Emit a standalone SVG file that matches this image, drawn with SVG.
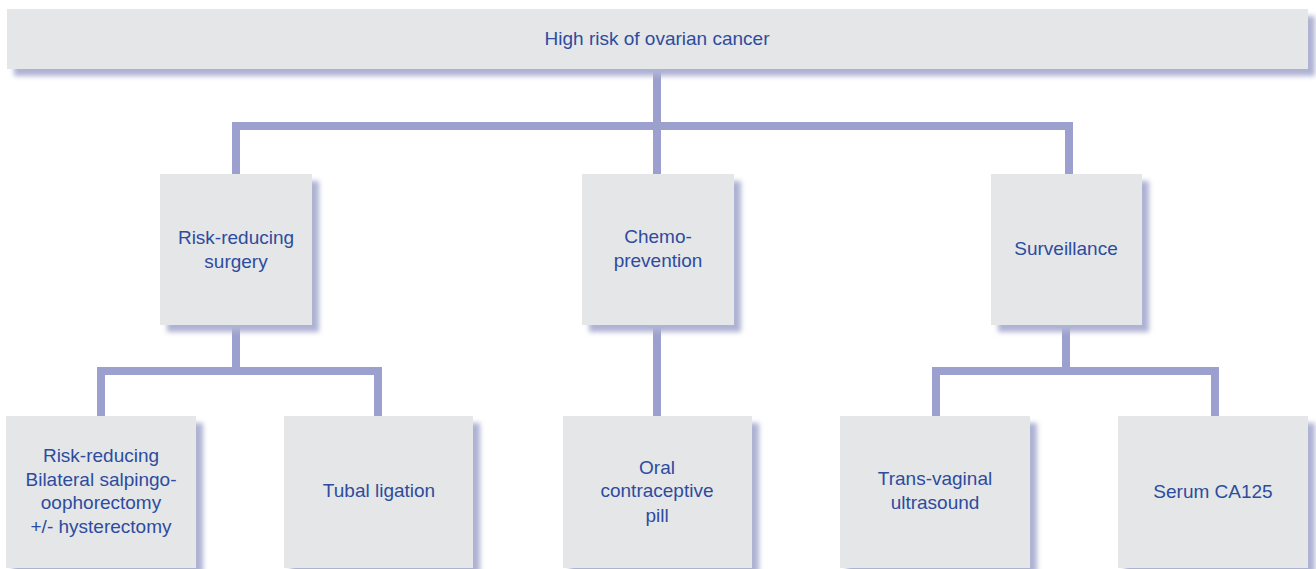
<svg xmlns="http://www.w3.org/2000/svg" width="1316" height="569" viewBox="0 0 1316 569">
<style>
.box{fill:#e5e6e8;filter:url(#sh)}
.t{font-family:"Liberation Sans",Arial,sans-serif;font-size:19px;fill:#2d4c9e;text-anchor:middle}
.c{fill:none;stroke:#9ca0cf;stroke-width:8}
</style>
<defs>
<filter id="sh" x="-10%" y="-10%" width="130%" height="130%">
<feDropShadow dx="7" dy="7" stdDeviation="2.5" flood-color="#aeb2d3" flood-opacity="1"/>
</filter>
</defs>
<rect width="1316" height="569" fill="#ffffff"/>
<g id="connectors">
<path class="c" d="M657 69V126M236 174V126H1069V174M657 126V174"/>
<path class="c" d="M236 325V371H101V416M236 371H378V416"/>
<path class="c" d="M657 325V416"/>
<path class="c" d="M1066 325V371H936V416M1066 371H1215V416"/>
</g>
<g id="root"><rect class="box" x="7" y="9" width="1301" height="60"/><text class="t" x="657" y="45">High risk of ovarian cancer</text></g>
<g id="surgery"><rect class="box" x="160" y="174" width="152" height="151"/><text class="t" x="236" y="244">Risk-reducing</text><text class="t" x="236" y="268">surgery</text></g>
<g id="chemo"><rect class="box" x="582" y="174" width="152" height="151"/><text class="t" x="658" y="243">Chemo-</text><text class="t" x="658" y="267">prevention</text></g>
<g id="surveillance"><rect class="box" x="991" y="174" width="151" height="151"/><text class="t" x="1066" y="255">Surveillance</text></g>
<g id="bso"><rect class="box" x="6" y="416" width="190" height="152"/><text class="t" x="101" y="462">Risk-reducing</text><text class="t" x="101" y="486">Bilateral salpingo-</text><text class="t" x="101" y="509">oophorectomy</text><text class="t" x="101" y="533">+/- hysterectomy</text></g>
<g id="tubal"><rect class="box" x="284" y="416" width="189" height="152"/><text class="t" x="379" y="497">Tubal ligation</text></g>
<g id="ocp"><rect class="box" x="563" y="416" width="189" height="152"/><text class="t" x="657" y="474">Oral</text><text class="t" x="657" y="497">contraceptive</text><text class="t" x="657" y="522">pill</text></g>
<g id="tvus"><rect class="box" x="840" y="416" width="190" height="152"/><text class="t" x="935" y="485">Trans-vaginal</text><text class="t" x="935" y="509">ultrasound</text></g>
<g id="ca125"><rect class="box" x="1118" y="416" width="190" height="152"/><text class="t" x="1213" y="498">Serum CA125</text></g>
</svg>
